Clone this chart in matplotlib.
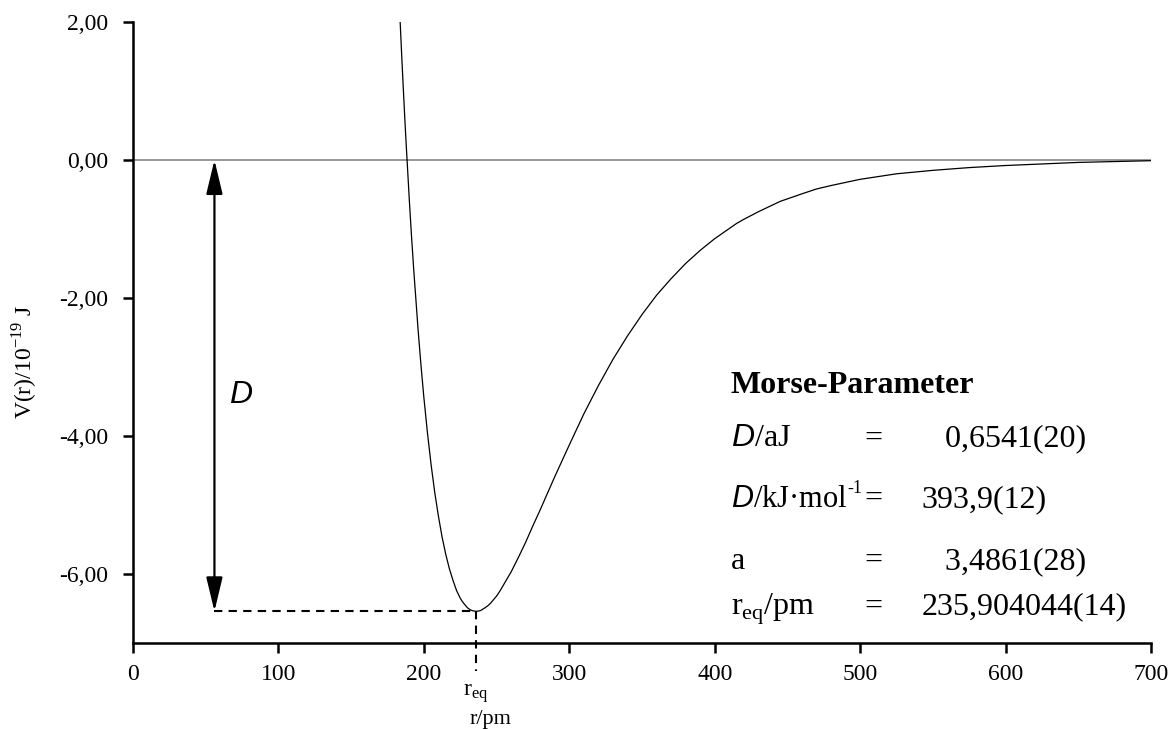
import matplotlib
matplotlib.use("Agg")
import matplotlib.pyplot as plt

plt.rcParams['font.family'] = ['Liberation Serif', 'DejaVu Serif']
plt.rcParams['mathtext.fontset'] = 'custom'
plt.rcParams['mathtext.rm'] = 'Liberation Serif'
plt.rcParams['mathtext.it'] = 'Liberation Sans:italic'
plt.rcParams['mathtext.bf'] = 'Liberation Serif:bold'

# data
r = [183.7, 185, 186, 187, 188, 190, 191.5, 193, 196, 198, 200, 202.5, 205,
     207.5, 210, 212.5, 215, 217.5, 220, 222.5, 225, 226.5, 228, 230, 232,
     233.5, 235.9, 238, 239, 242, 244, 246, 248, 250, 252.5, 255, 260, 265,
     270, 275, 280, 285, 290, 300, 310, 320, 330, 340, 350, 360, 370, 380,
     390, 400, 415, 420, 430, 445, 460, 470, 480, 500, 525, 550, 575, 600,
     650, 700]
V = [2.00, 1.41, 0.98, 0.56, 0.17, -0.58, -1.10, -1.58, -2.45, -2.97, -3.44,
     -3.96, -4.42, -4.82, -5.16, -5.46, -5.71, -5.92, -6.09, -6.24, -6.35,
     -6.40, -6.44, -6.49, -6.52, -6.533, -6.541, -6.535, -6.53, -6.49, -6.46,
     -6.42, -6.37, -6.32, -6.24, -6.15, -5.97, -5.76, -5.54, -5.30, -5.07,
     -4.83, -4.59, -4.13, -3.68, -3.27, -2.89, -2.55, -2.24, -1.96, -1.72,
     -1.50, -1.31, -1.14, -0.92, -0.86, -0.75, -0.60, -0.49, -0.42, -0.37,
     -0.28, -0.20, -0.15, -0.11, -0.08, -0.035, -0.01]

r_eq = 235.9
D = 6.541
r_arrow = 56

xticks = [0, 100, 200, 300, 400, 500, 600, 700]
yticks = [-6, -4, -2, 0, 2]
ytick_labels = ['-6,00', '-4,00', '-2,00', '0,00', '2,00']

param_names = [r'$\mathit{D}$/aJ', r'$\mathit{D}$/kJ·mol', 'a', r'r$_{\mathrm{eq}}$/pm']
param_values = ['   0,6541(20)', '393,9(12)', '   3,4861(28)', '235,904044(14)']
param_y = [-4.15, -5.03, -5.93, -6.59]

fig = plt.figure(figsize=(11.76, 7.29), dpi=100)
ax = fig.add_axes([133 / 1176, (729 - 643) / 729, 1018 / 1176, 621 / 729])

ax.axhline(0, color='#7a7a7a', lw=1.1, zorder=1)
ax.plot(r, V, color='black', lw=0.9, zorder=3)

# D arrow and guides
ax.annotate('', xy=(r_arrow, 0), xytext=(r_arrow, -D),
            arrowprops=dict(arrowstyle='<|-|>,head_length=0.75,head_width=0.18',
                            color='black', lw=1.6, mutation_scale=28,
                            shrinkA=0, shrinkB=0))
ax.plot([r_arrow, r_eq], [-D, -D], color='black', lw=1.5, ls=(0, (4, 3)))
ax.plot([r_eq, r_eq], [-D, -7.4], color='black', lw=1.5, ls=(0, (4, 3)),
        clip_on=False)
ax.text(66, -3.41, r'$\mathit{D}$', fontsize=23, va='center', ha='left')
ax.text(r_eq, -7.74, r'r$_{\mathrm{eq}}$', fontsize=17, ha='center', va='center')

# parameter box
ax.text(411, -3.38, 'Morse-Parameter', fontsize=23, fontweight='bold',
        ha='left', va='baseline')
name_texts = []
for name, val, y in zip(param_names, param_values, param_y):
    size = 22 if 'mol' in name else 23
    name_texts.append(ax.text(411, y, name, fontsize=size, ha='left', va='baseline'))
    ax.text(509, y, '=', fontsize=23, ha='center', va='baseline')
    ax.text(542, y, val, fontsize=23, ha='left', va='baseline')

# superscript "-1" after mol, with a plain hyphen
renderer = fig.canvas.get_renderer()
bb = name_texts[1].get_window_extent(renderer)
ax.annotate('-1', xy=(411, param_y[1]), xytext=(bb.width * 72 / 100, 10),
            textcoords='offset points', fontsize=13, ha='left', va='baseline')

ax.set_xlim(0, 700)
ax.set_ylim(-7, 2)
ax.set_xticks(xticks)
ax.set_yticks(yticks)
ax.set_yticklabels(ytick_labels)
ax.tick_params(direction='out', length=7, width=1.8, labelsize=17)
ax.tick_params(axis='x', pad=8)
ax.tick_params(axis='y', pad=11)
for s in ['top', 'right']:
    ax.spines[s].set_visible(False)
for s in ['left', 'bottom']:
    ax.spines[s].set_linewidth(1.8)

ax.set_xlabel('r/pm', fontsize=16)
ax.set_ylabel(r'V(r)/10$^{-19}$ J', fontsize=17)
ax.xaxis.set_label_coords(0.351, -0.108)
ax.yaxis.set_label_coords(-0.092, 0.4525)

fig.savefig('out.png', dpi=100)
